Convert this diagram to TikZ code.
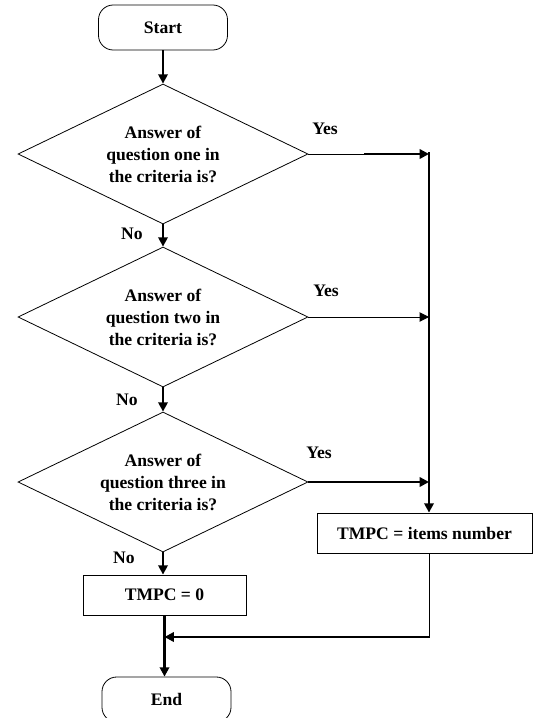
\documentclass[tikz,border=0pt]{standalone}
\usepackage{fontspec}
\setmainfont{Liberation Serif}
\usetikzlibrary{shapes.geometric,arrows.meta}
\begin{document}
\begin{tikzpicture}[x=0.75pt,y=-0.75pt,
  every node/.style={font=\fontsize{13.2}{16.5}\selectfont\bfseries},
  terminal/.style={draw,line width=0.6pt,rounded corners=11pt,
    minimum width=96.75pt,minimum height=33.75pt,inner sep=0pt},
  decision/.style={draw,line width=0.6pt,diamond,aspect=2.08,inner sep=0pt,
    minimum width=217.5pt,minimum height=105pt,align=center},
  process/.style={draw,line width=0.6pt,minimum height=30pt,inner sep=0pt},
  flow/.style={line width=1.9pt,-{Triangle[length=7pt,width=7pt]}},
  flowthin/.style={line width=0.75pt,-{Triangle[length=7pt,width=7pt]}},
  plain/.style={line width=0.75pt},
  lbl/.style={inner sep=0pt}]
\useasboundingbox (0,0) rectangle (533,718);

% nodes
\node[terminal] (start) at (163,27.5) {Start};
\node[decision] (d1) at (163,154) {Answer of\\question one in\\the criteria is?};
\node[decision] (d2) at (163,317) {Answer of\\question two in\\the criteria is?};
\node[decision] (d3) at (163,482) {Answer of\\question three in\\the criteria is?};
\node[process,minimum width=161.25pt] (items) at (424.5,533) {TMPC = items number};
\node[process,minimum width=122.25pt] (zero) at (164.5,595) {TMPC = 0};
\node[terminal] (end) at (166.5,699.5) {End};

% branch labels
\node[lbl] (yes1) at (325,129) {Yes};
\node[lbl] (yes2) at (326,291) {Yes};
\node[lbl] (yes3) at (319,453) {Yes};
\node[lbl] (no1) at (132,234) {No};
\node[lbl] (no2) at (127,400) {No};
\node[lbl] (no3) at (124,558) {No};

% helper points on the collector line
\coordinate (y1a) at (364,154);
\coordinate (r1) at (429,154);
\coordinate (r2) at (429,317);
\coordinate (r3) at (429,482);
\coordinate (m1) at (429,637);
\coordinate (m2) at (164.5,637);

% main (No) path
\draw[flow] (start) -- (d1.north);
\draw[flow] (d1.south) -- (d2.north);
\draw[flow] (d2.south) -- (d3.north);
\draw[flow] (d3.south) -- (zero.north -| d3.south);
\draw[flow] (zero.south) -- (end.north -| zero.south);

% Yes branches
\draw[plain] (d1.east) -- (y1a);
\draw[flow] (y1a) -- (r1);
\draw[flowthin] (d2.east) -- (r2);
\draw[flow] (d3.east) -- (r3);
\draw[flow] ([yshift=1.5pt]r1) -- (items.north -| r1);

% merge back into the main line
\draw[plain] (items.south -| r1) -- (m1);
\draw[flow] ([xshift=0.6pt]m1) -- (m2);
\end{tikzpicture}
\end{document}
